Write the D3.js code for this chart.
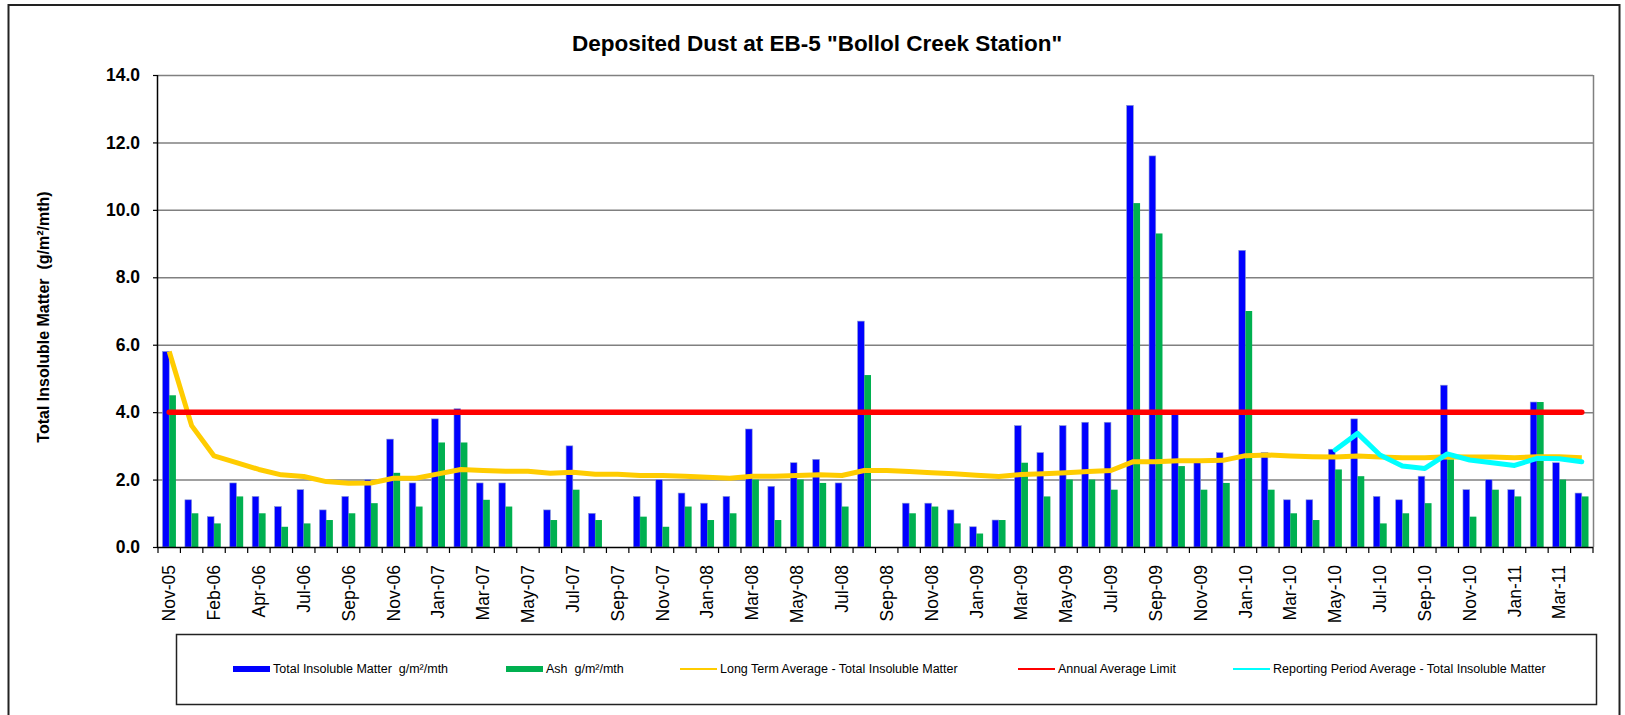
<!DOCTYPE html>
<html>
<head>
<meta charset="utf-8">
<script src="https://cdnjs.cloudflare.com/ajax/libs/d3/7.8.5/d3.min.js"></script>
<style>
  body { margin: 0; background: #fff; }
  svg { display: block; font-family: "Liberation Sans", Arial, sans-serif; }
  svg text { white-space: pre; }
</style>
</head>
<body>
<div id="chart"></div>
<script>
//////////////////////////////////////////////
// Data //////////////////////////////////////
//////////////////////////////////////////////
var categories = ["Nov-05","Jan-06","Feb-06","Mar-06","Apr-06","Jun-06","Jul-06","Aug-06","Sep-06","Oct-06",
  "Nov-06","Dec-06","Jan-07","Feb-07","Mar-07","Apr-07","May-07","Jun-07","Jul-07","Aug-07",
  "Sep-07","Oct-07","Nov-07","Dec-07","Jan-08","Feb-08","Mar-08","Apr-08","May-08","Jun-08",
  "Jul-08","Aug-08","Sep-08","Oct-08","Nov-08","Dec-08","Jan-09","Feb-09","Mar-09","Apr-09",
  "May-09","Jun-09","Jul-09","Aug-09","Sep-09","Oct-09","Nov-09","Dec-09","Jan-10","Feb-10",
  "Mar-10","Apr-10","May-10","Jun-10","Jul-10","Aug-10","Sep-10","Oct-10","Nov-10","Dec-10",
  "Jan-11","Feb-11","Mar-11","Apr-11"];

// Total Insoluble Matter g/m2/mth
var totalInsoluble = [5.8,1.4,0.9,1.9,1.5,1.2,1.7,1.1,1.5,2.0,
  3.2,1.9,3.8,4.1,1.9,1.9,null,1.1,3.0,1.0,
  null,1.5,2.0,1.6,1.3,1.5,3.5,1.8,2.5,2.6,
  1.9,6.7,null,1.3,1.3,1.1,0.6,0.8,3.6,2.8,
  3.6,3.7,3.7,13.1,11.6,4.0,2.5,2.8,8.8,2.8,
  1.4,1.4,2.9,3.8,1.5,1.4,2.1,4.8,1.7,2.0,
  1.7,4.3,2.5,1.6];

// Ash g/m2/mth
var ash = [4.5,1.0,0.7,1.5,1.0,0.6,0.7,0.8,1.0,1.3,
  2.2,1.2,3.1,3.1,1.4,1.2,null,0.8,1.7,0.8,
  null,0.9,0.6,1.2,0.8,1.0,2.0,0.8,2.0,1.9,
  1.2,5.1,null,1.0,1.2,0.7,0.4,0.8,2.5,1.5,
  2.0,2.0,1.7,10.2,9.3,2.4,1.7,1.9,7.0,1.7,
  1.0,0.8,2.3,2.1,0.7,1.0,1.3,2.6,0.9,1.7,
  1.5,4.3,2.0,1.5];

// Long Term Average - Total Insoluble Matter
var longTermAvg = [5.8,3.6,2.7,2.5,2.3,2.14,2.09,1.94,1.89,1.9,
  2.04,2.04,2.17,2.3,2.27,2.25,2.25,2.19,2.22,2.16,
  2.16,2.12,2.12,2.1,2.07,2.04,2.1,2.1,2.12,2.14,
  2.12,2.27,2.27,2.24,2.2,2.17,2.13,2.09,2.15,2.17,
  2.2,2.24,2.27,2.53,2.53,2.56,2.56,2.57,2.71,2.73,
  2.7,2.68,2.67,2.7,2.67,2.65,2.65,2.68,2.67,2.67,
  2.65,2.68,2.68,2.65];

// Annual Average Limit
var annualLimit = categories.map(function() { return 4.0; });

// Reporting Period Average - Total Insoluble Matter (May-10 onwards)
var reportingCats = ["May-10","Jun-10","Jul-10","Aug-10","Sep-10","Oct-10","Nov-10","Dec-10","Jan-11","Feb-11","Mar-11","Apr-11"];
var reportingAvg = [2.88,3.37,2.73,2.4,2.33,2.76,2.58,2.5,2.42,2.63,2.62,2.53];

var yTicks = [0,2,4,6,8,10,12,14];

//////////////////////////////////////////////
// Chart Config /////////////////////////////
//////////////////////////////////////////////
var W = 1625, H = 715;
var margin = {top: 75, right: 32, bottom: 168, left: 158};
var width = W - margin.left - margin.right,
    height = H - margin.top - margin.bottom;

var xScale = d3.scaleBand().domain(categories).range([0, width]).paddingInner(0).paddingOuter(0);
var xInner = d3.scaleBand().domain(["total","ash"]).range([0, xScale.bandwidth()]).paddingInner(0).paddingOuter(0.67);
var yScale = d3.scaleLinear().domain([0, 14]).range([height, 0]);

var svg = d3.select("#chart").append("svg")
    .attr("width", W)
    .attr("height", H);

// outer chart border
svg.append("rect")
    .attr("x", 8.5).attr("y", 5)
    .attr("width", 1611).attr("height", 730)
    .style("fill", "none").style("stroke", "#222").style("stroke-width", 2);

// title
svg.append("text")
    .attr("x", 817).attr("y", 51)
    .attr("text-anchor", "middle")
    .style("font-size", "22.5px").style("font-weight", "bold")
    .text('Deposited Dust at EB-5 "Bollol Creek Station"');

var artboard = svg.append("g")
    .attr("transform", "translate(" + margin.left + "," + margin.top + ")");

// gridlines
artboard.selectAll(".grid").data(yTicks.filter(function(d) { return d > 0; }))
  .enter().append("line")
    .attr("class", "grid")
    .attr("x1", 0).attr("x2", width)
    .attr("y1", function(d) { return yScale(d) + 0.5; })
    .attr("y2", function(d) { return yScale(d) + 0.5; })
    .style("stroke", "#808080").style("stroke-width", 1.5);

// right border of plot area
artboard.append("line")
    .attr("x1", width + 0.5).attr("x2", width + 0.5)
    .attr("y1", 0).attr("y2", height)
    .style("stroke", "#808080").style("stroke-width", 1.5);

// bars
var bars = artboard.append("g");
bars.selectAll(".bar-total").data(categories)
  .enter().filter(function(d, i) { return totalInsoluble[i] != null; })
  .append("rect")
    .attr("x", function(d) { return xScale(d) + xInner("total"); })
    .attr("y", function(d) { var i = categories.indexOf(d); return yScale(totalInsoluble[i]); })
    .attr("width", xInner.bandwidth())
    .attr("height", function(d) { var i = categories.indexOf(d); return height - yScale(totalInsoluble[i]); })
    .style("fill", "#0000ff")
    .style("stroke", "#8a9bd0").style("stroke-width", 0.6);

bars.selectAll(".bar-ash").data(categories)
  .enter().filter(function(d, i) { return ash[i] != null; })
  .append("rect")
    .attr("x", function(d) { return xScale(d) + xInner("ash"); })
    .attr("y", function(d) { var i = categories.indexOf(d); return yScale(ash[i]); })
    .attr("width", xInner.bandwidth())
    .attr("height", function(d) { var i = categories.indexOf(d); return height - yScale(ash[i]); })
    .style("fill", "#00b050");

// lines
var line = d3.line()
    .defined(function(d) { return d[1] != null; })
    .x(function(d) { return xScale(d[0]) + xScale.bandwidth() / 2; })
    .y(function(d) { return yScale(d[1]); });

artboard.append("path")
    .datum(d3.zip(categories, longTermAvg))
    .attr("d", line)
    .style("fill", "none").style("stroke", "#ffcc00").style("stroke-width", 5)
    .style("stroke-linejoin", "round");

artboard.append("path")
    .datum(d3.zip(categories, annualLimit))
    .attr("d", line)
    .style("fill", "none").style("stroke", "#ff0000").style("stroke-width", 5.5)
    .style("stroke-linecap", "round");

artboard.append("path")
    .datum(d3.zip(reportingCats, reportingAvg))
    .attr("d", line)
    .style("fill", "none").style("stroke", "#00ffff").style("stroke-width", 5)
    .style("stroke-linejoin", "round").style("stroke-linecap", "round");

// Y axis
var yAxis = d3.axisLeft(yScale).tickValues(yTicks).tickSize(5).tickPadding(13)
    .tickFormat(d3.format(".1f"));
var yAxisEl = artboard.append("g").attr("class", "y axis").call(yAxis);
yAxisEl.select(".domain").attr("d", "M-0.5,0V" + height).style("stroke", "#000").style("stroke-width", 1.5);
yAxisEl.selectAll(".tick line").style("stroke", "#000").style("stroke-width", 1.2);
yAxisEl.selectAll("text")
    .style("font-size", "17.5px").style("font-weight", "bold")
    .style("font-family", '"Liberation Sans", Arial, sans-serif').style("fill", "#000");

// X axis: ticks at category boundaries, label every other category
var xAxisEl = artboard.append("g").attr("class", "x axis")
    .attr("transform", "translate(0," + height + ")");
xAxisEl.append("line")
    .attr("x1", -0.5).attr("x2", width)
    .attr("y1", 0.5).attr("y2", 0.5)
    .style("stroke", "#000").style("stroke-width", 1.5);
xAxisEl.selectAll(".xtick").data(categories.concat(["__end"]))
  .enter().append("line")
    .attr("x1", function(d, i) { return i * xScale.step(); })
    .attr("x2", function(d, i) { return i * xScale.step(); })
    .attr("y1", 0).attr("y2", 6)
    .style("stroke", "#000").style("stroke-width", 1.2);
xAxisEl.selectAll(".xlabel").data(categories.filter(function(d, i) { return i % 2 == 0; }))
  .enter().append("text")
    .attr("transform", function(d) {
      return "translate(" + (xScale(d) + xScale.bandwidth() / 2) + ",18) rotate(-90)";
    })
    .attr("dy", "0.35em")
    .attr("text-anchor", "end")
    .style("font-size", "17.5px")
    .text(function(d) { return d; });

// Y axis title
svg.append("text")
    .attr("transform", "translate(49,317) rotate(-90)")
    .attr("text-anchor", "middle")
    .style("font-size", "16px").style("font-weight", "bold")
    .text("Total Insoluble Matter  (g/m\u00b2/mth)");

//////////////////////////////////////////////
// Legend ////////////////////////////////////
//////////////////////////////////////////////
svg.append("rect")
    .attr("x", 176.5).attr("y", 634.5)
    .attr("width", 1420).attr("height", 70)
    .style("fill", "none").style("stroke", "#222").style("stroke-width", 1.5);

var legendItems = [
  {label: "Total Insoluble Matter  g/m\u00b2/mth", color: "#0000ff", type: "bar", x: 233},
  {label: "Ash  g/m\u00b2/mth", color: "#00b050", type: "bar", x: 506},
  {label: "Long Term Average - Total Insoluble Matter", color: "#ffcc00", type: "line", x: 680},
  {label: "Annual Average Limit", color: "#ff0000", type: "line", x: 1018},
  {label: "Reporting Period Average - Total Insoluble Matter", color: "#00ffff", type: "line", x: 1233}
];

var legend = svg.selectAll(".legend").data(legendItems)
  .enter().append("g")
    .attr("transform", function(d) { return "translate(" + d.x + ",669)"; });

legend.append("rect")
    .attr("x", 0).attr("y", function(d) { return d.type == "bar" ? -3 : -1; })
    .attr("width", 37).attr("height", function(d) { return d.type == "bar" ? 6 : 2; })
    .style("fill", function(d) { return d.color; });

legend.append("text")
    .attr("x", 40).attr("y", 0).attr("dy", "0.35em")
    .style("font-size", "12.5px")
    .text(function(d) { return d.label; });
</script>
</body>
</html>
